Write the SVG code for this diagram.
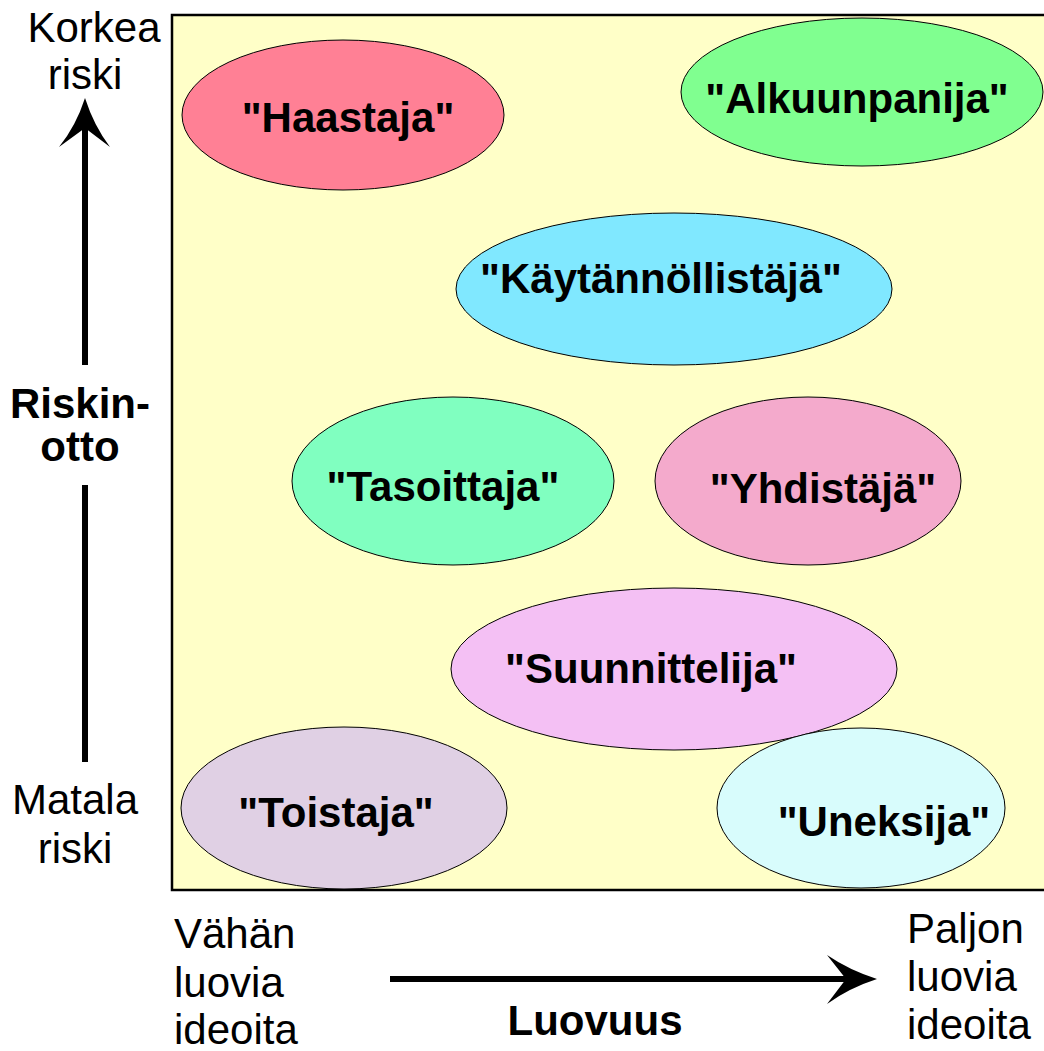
<svg xmlns="http://www.w3.org/2000/svg" width="1044" height="1051" viewBox="0 0 1044 1051">
<style>
.lbl{font-family:"Liberation Sans",Arial,sans-serif;font-size:42px;fill:#000}
.b{font-weight:bold}
.node ellipse{stroke:#000;stroke-width:1}
.node text{font-family:"Liberation Sans",Arial,sans-serif;font-size:42px;font-weight:bold;fill:#000;text-anchor:middle}
</style>
<rect width="1044" height="1051" fill="#fff"/>
<rect x="172" y="15" width="880" height="875" fill="#FFFFC8" stroke="#000" stroke-width="2.5"/>
<g id="haastaja" class="node"><ellipse cx="343" cy="115" rx="161" ry="75" fill="#FF8095"/><text x="348" y="132">"Haastaja"</text></g>
<g id="alkuunpanija" class="node"><ellipse cx="862" cy="92" rx="181" ry="74" fill="#80FF90"/><text x="857" y="113">"Alkuunpanija"</text></g>
<g id="kaytannollistaja" class="node"><ellipse cx="674" cy="289" rx="218" ry="76" fill="#80E8FF"/><text x="661" y="293">"Käytännöllistäjä"</text></g>
<g id="tasoittaja" class="node"><ellipse cx="453" cy="481" rx="161" ry="84" fill="#80FFC0"/><text x="443" y="501">"Tasoittaja"</text></g>
<g id="yhdistaja" class="node"><ellipse cx="808" cy="481" rx="153" ry="84" fill="#F4AACC"/><text x="823" y="503">"Yhdistäjä"</text></g>
<g id="suunnittelija" class="node"><ellipse cx="674" cy="669" rx="223" ry="81" fill="#F4C0F4"/><text x="651" y="683">"Suunnittelija"</text></g>
<g id="toistaja" class="node"><ellipse cx="344" cy="808" rx="163" ry="81" fill="#E0D0E4"/><text x="336" y="827">"Toistaja"</text></g>
<g id="uneksija" class="node"><ellipse cx="861" cy="808" rx="144" ry="80" fill="#D8FCFC"/><text x="884" y="836">"Uneksija"</text></g>
<g id="connectors">
<line x1="85" y1="125" x2="85" y2="365" stroke="#000" stroke-width="6"/>
<line x1="85" y1="485" x2="85" y2="762" stroke="#000" stroke-width="6"/>
<path d="M85,98 Q76,126 59,147 L85,128 L110,147 Q94,126 85,98 Z" fill="#000"/>
<line x1="390" y1="979" x2="850" y2="979" stroke="#000" stroke-width="6"/>
<path d="M877,979 Q849,970 827,955 L846,979 L827,1004 Q849,988 877,979 Z" fill="#000"/>
</g>
<g text-anchor="middle" class="lbl">
<text x="94" y="42">Korkea</text>
<text x="85" y="89">riski</text>
<text x="80" y="418" class="b">Riskin-</text>
<text x="80" y="461" class="b">otto</text>
<text x="75" y="814">Matala</text>
<text x="75" y="863">riski</text>
<text x="595" y="1035" class="b">Luovuus</text>
</g>
<g class="lbl">
<text x="174" y="948">Vähän</text>
<text x="174" y="997">luovia</text>
<text x="174" y="1044">ideoita</text>
<text x="907" y="943">Paljon</text>
<text x="907" y="991">luovia</text>
<text x="907" y="1039">ideoita</text>
</g>
</svg>
